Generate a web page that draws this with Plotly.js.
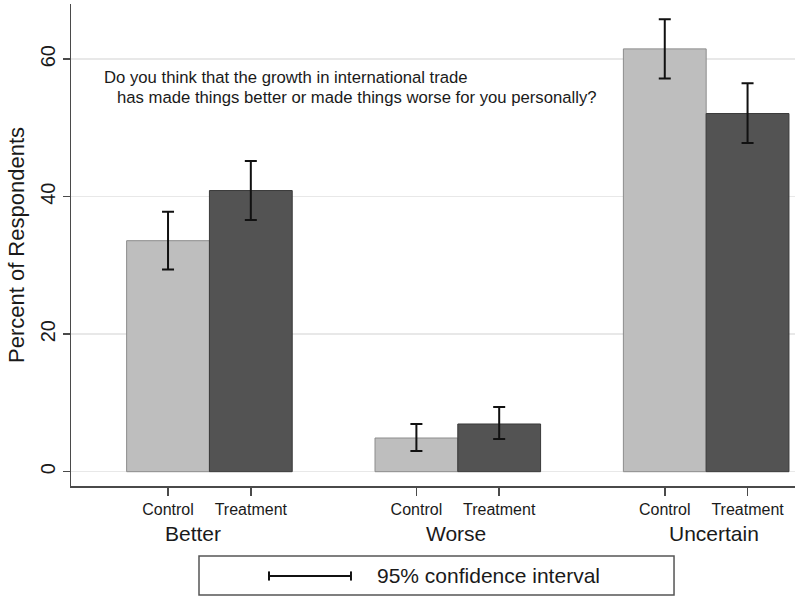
<!DOCTYPE html>
<html>
<head>
<meta charset="utf-8">
<script src="https://cdn.plot.ly/plotly-3.0.1.min.js"></script>
<style>html,body{margin:0;padding:0;background:#fff;}#chart{width:795px;height:597px;}</style>
</head>
<body>
<div id="chart"></div>
<script>
// ---- data ----
var groups = ["Better", "Worse", "Uncertain"];
var conditions = ["Control", "Treatment"];
var controlX = [0, 3, 6];
var treatmentX = [1, 4, 7];
var controlMean = [33.6, 4.9, 61.5];
var controlUpper = [37.8, 6.94, 65.8];
var controlLower = [29.4, 3.0, 57.2];
var treatmentMean = [40.9, 6.94, 52.1];
var treatmentUpper = [45.2, 9.4, 56.5];
var treatmentLower = [36.6, 4.76, 47.8];
var yTicks = [0, 20, 40, 60];
var questionLine1 = "Do you think that the growth in international trade";
var questionLine2 = "has made things better or made things worse for you personally?";
var legendText = "95% confidence interval";

function diff(a, b) { return a.map(function (v, i) { return v - b[i]; }); }

var font = "Liberation Sans, Arial, Helvetica, sans-serif";
var txt = "#1a1a1a";

var errStyle = { type: "data", symmetric: false, color: "#111", thickness: 2, width: 6 };

var traceControl = {
  type: "bar", x: controlX, y: controlMean, width: 1, name: "Control",
  marker: { color: "#bebebe", line: { color: "#8c8c8c", width: 1 } },
  error_y: Object.assign({ array: diff(controlUpper, controlMean), arrayminus: diff(controlMean, controlLower) }, errStyle),
  hoverinfo: "y"
};
var traceTreatment = {
  type: "bar", x: treatmentX, y: treatmentMean, width: 1, name: "Treatment",
  marker: { color: "#535353", line: { color: "#3a3a3a", width: 1 } },
  error_y: Object.assign({ array: diff(treatmentUpper, treatmentMean), arrayminus: diff(treatmentMean, treatmentLower) }, errStyle),
  hoverinfo: "y"
};

var tickVals = [], tickText = [];
for (var i = 0; i < groups.length; i++) {
  tickVals.push(controlX[i], treatmentX[i]);
  tickText.push(conditions[0], conditions[1]);
}

var groupShift = [-16, -2, 8];
var annotations = groups.map(function (g, i) {
  return {
    text: g, x: (controlX[i] + treatmentX[i]) / 2, xref: "x", y: 0, yref: "paper",
    yshift: -47, xshift: groupShift[i], yanchor: "middle", xanchor: "center", showarrow: false,
    font: { family: font, size: 21, color: txt }
  };
});
annotations.push({
  text: questionLine1, xref: "paper", yref: "paper", x: 0.0428, y: 0.8485,
  xanchor: "left", yanchor: "middle", showarrow: false, font: { family: font, size: 16.7, color: txt }
});
annotations.push({
  text: questionLine2, xref: "paper", yref: "paper", x: 0.0608, y: 0.805,
  xanchor: "left", yanchor: "middle", showarrow: false, font: { family: font, size: 16.7, color: txt }
});
annotations.push({
  text: legendText, xref: "paper", yref: "paper", x: 0.4199, y: -0.1867,
  xanchor: "left", yanchor: "middle", showarrow: false, font: { family: font, size: 21, color: txt }
});

var capH = 0.0095;
var shapes = [
  { type: "rect", xref: "paper", yref: "paper", x0: 0.1768, x1: 0.8329, y0: -0.1452, y1: -0.2261,
    line: { color: "#555", width: 1.5 }, fillcolor: "rgba(0,0,0,0)" },
  { type: "line", xref: "paper", yref: "paper", x0: 0.2735, x1: 0.3867, y0: -0.1867, y1: -0.1867,
    line: { color: "#111", width: 2 } },
  { type: "line", xref: "paper", yref: "paper", x0: 0.2735, x1: 0.2735, y0: -0.1867 - capH, y1: -0.1867 + capH,
    line: { color: "#111", width: 2 } },
  { type: "line", xref: "paper", yref: "paper", x0: 0.3867, x1: 0.3867, y0: -0.1867 - capH, y1: -0.1867 + capH,
    line: { color: "#111", width: 2 } }
];

var layout = {
  width: 795, height: 597,
  margin: { l: 71, r: 0, t: 4, b: 111, pad: 0 },
  paper_bgcolor: "#fff", plot_bgcolor: "#fff",
  barmode: "overlay", showlegend: false,
  font: { family: font, color: txt },
  xaxis: {
    range: [-1.172, 7.573], tickmode: "array", tickvals: tickVals, ticktext: tickText,
    showgrid: false, zeroline: false, showline: true, linecolor: "#4a4a4a", linewidth: 1.5,
    ticks: "outside", ticklen: 8, tickwidth: 1.5, tickcolor: "#4a4a4a",
    tickfont: { family: font, size: 16, color: txt }, fixedrange: true
  },
  yaxis: {
    range: [-2.08, 68.03], tickmode: "array", tickvals: yTicks, tickangle: -90,
    showgrid: true, gridcolor: "#e8e8e8", gridwidth: 1.5, zeroline: false,
    showline: true, linecolor: "#4a4a4a", linewidth: 1.5,
    ticks: "outside", ticklen: 7, tickwidth: 1.5, tickcolor: "#4a4a4a",
    tickfont: { family: font, size: 20, color: txt },
    title: { text: "Percent of Respondents", font: { family: font, size: 22, color: txt }, standoff: 6 },
    automargin: false, fixedrange: true
  },
  annotations: annotations,
  shapes: shapes
};

Plotly.newPlot("chart", [traceControl, traceTreatment], layout, { displayModeBar: false, staticPlot: true });
</script>
</body>
</html>
